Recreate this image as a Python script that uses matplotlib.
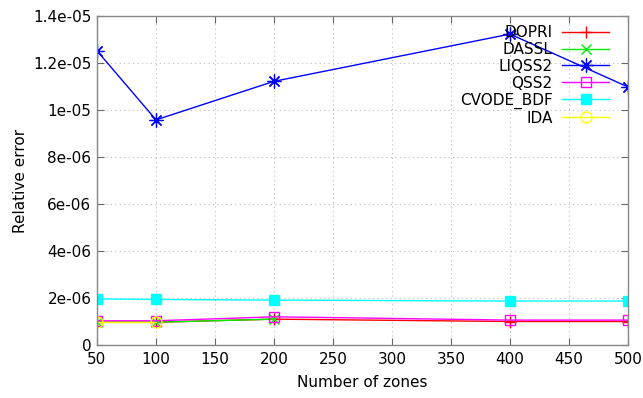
import matplotlib
matplotlib.use("Agg")
import matplotlib.pyplot as plt

zones = [50, 100, 200, 400, 500]
dopri = [0.97e-6, 0.97e-6, 1.10e-6, 1.00e-6, 1.00e-6]
dassl_zones = [50, 100, 200]
dassl = [0.97e-6, 0.97e-6, 1.10e-6]
liqss2 = [1.252e-5, 0.958e-5, 1.122e-5, 1.323e-5, 1.098e-5]
qss2 = [1.03e-6, 1.03e-6, 1.20e-6, 1.06e-6, 1.06e-6]
cvode = [1.96e-6, 1.94e-6, 1.91e-6, 1.87e-6, 1.87e-6]
ida_zones = [50, 100]
ida = [1.0e-6, 1.0e-6]

xticks = [50, 100, 150, 200, 250, 300, 350, 400, 450, 500]
yticks = [0, 2e-6, 4e-6, 6e-6, 8e-6, 1e-5, 1.2e-5, 1.4e-5]
ytick_labels = ["0", "2e-06", "4e-06", "6e-06", "8e-06", "1e-05", "1.2e-05", "1.4e-05"]

fig = plt.figure(figsize=(6.43, 3.98), dpi=100)
ax = fig.add_axes([97/643, 1-345/398, (628-97)/643, (345-16)/398])

lw = 1.0
ax.plot(zones, dopri, color="#ff0000", marker="+", ms=9, mew=1, lw=lw, label="DOPRI")
ax.plot(dassl_zones, dassl, color="#00ee00", marker="x", ms=7.5, mew=1, lw=lw, label="DASSL")
ax.plot(zones, liqss2, color="#0000ff", marker=(8, 2, 0), ms=10, mew=0.9, lw=lw, label="LIQSS2")
ax.plot(zones, qss2, color="#ff00ff", marker="s", mfc="none", ms=7.5, mew=1, lw=lw, label="QSS2")
ax.plot(zones, cvode, color="#00ffff", marker="s", ms=7.5, lw=lw, label="CVODE_BDF")
ax.plot(ida_zones, ida, color="#ffff00", marker="o", mfc="none", ms=8, mew=1, lw=lw, label="IDA")

ax.set_xlim(50, 500)
ax.set_ylim(0, 1.4e-5)
ax.set_xticks(xticks)
ax.set_yticks(yticks)
ax.set_yticklabels(ytick_labels)
ax.grid(True, color="#bbbbbb", linestyle=(0, (1, 3)), lw=0.8)
ax.tick_params(direction="in", top=True, right=True, length=5, labelsize=11, pad=5, color="#666666")
ax.tick_params(axis="y", pad=4)
for s in ax.spines.values():
    s.set_color("#888888")
    s.set_linewidth(1)
ax.set_xlabel("Number of zones", fontsize=11, labelpad=6)
ax.set_ylabel("Relative error", fontsize=11)

leg = ax.legend(loc="upper right", frameon=False, markerfirst=False, fontsize=11,
                handlelength=3.1, labelspacing=0.12, borderaxespad=0.2,
                bbox_to_anchor=(0.982, 1.0), handletextpad=0.6)
for t in leg.get_texts():
    t.set_ha("right")
leg._legend_box.align = "right"

fig.savefig("out.png", dpi=100)
